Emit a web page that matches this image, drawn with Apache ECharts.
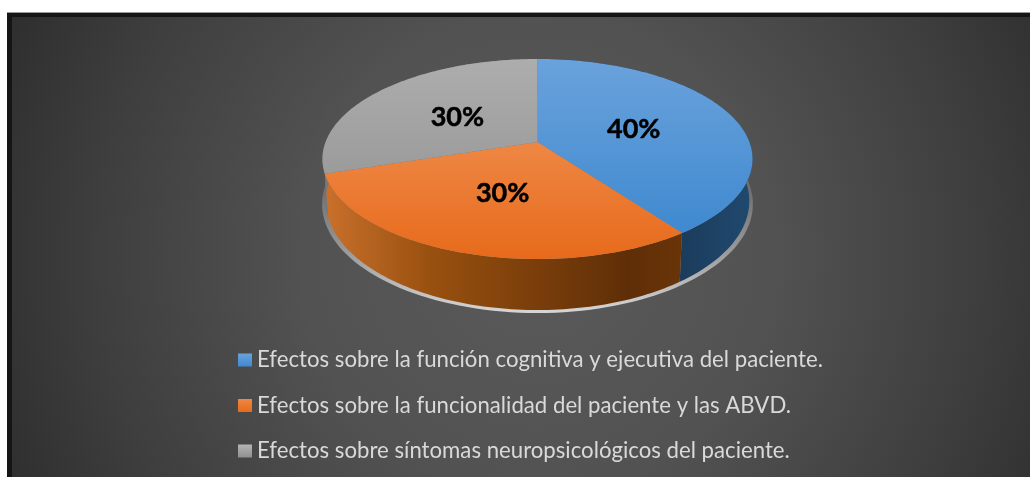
<!DOCTYPE html>
<html>
<head>
<meta charset="utf-8">
<style>
  html, body { margin: 0; padding: 0; background: #fff; }
  #main { width: 1030px; height: 477px; }
</style>
<script src="https://cdn.jsdelivr.net/npm/echarts@6/dist/echarts.min.js"></script>
</head>
<body>
<div id="main"></div>
<script>
var categories = [
  'Efectos sobre la función cognitiva y ejecutiva del paciente.',
  'Efectos sobre la funcionalidad del paciente y las ABVD.',
  'Efectos sobre síntomas neuropsicológicos del paciente.'
];
var values = [40, 30, 30];

var myChart = echarts.init(document.getElementById('main'));

// pie geometry: a flat disc seen in perspective (the far side is squeezed)
var cx = 537.5, cy = 142;
var persp = 0.17, radX = 211.9, radY = 97.1;
var bottomDrop = 40.5, bottomScaleX = 0.985, bottomScaleY = 1.09;
var total = values.reduce(function (a, b) { return a + b; }, 0);

function grad(x0, y0, x1, y1, stops) {
  return new echarts.graphic.LinearGradient(x0, y0, x1, y1, stops.map(function (c) {
    return { offset: c[0], color: c[1] };
  }), true);
}

var topFills = [
  grad(0, 59, 0, 235, [[0, '#6aa2dc'], [1, '#3f89cf']]),
  grad(0, 142, 0, 260, [[0, '#ee8744'], [1, '#e76a1b']]),
  grad(0, 59, 0, 175, [[0, '#adadad'], [1, '#9b9b9b']])
];
var sideFills = [
  grad(680, 0, 750, 0, [[0, '#1b3c5c'], [1, '#20496e']]),
  grad(325, 0, 682, 0, [[0, '#c9702c'], [0.3, '#98500f'], [0.85, '#5f2e07'], [1, '#6a3408']]),
  '#777'
];
var legendFills = [
  new echarts.graphic.LinearGradient(0, 0, 0, 1, [{ offset: 0, color: '#6aa2dc' }, { offset: 1, color: '#3f89cf' }]),
  new echarts.graphic.LinearGradient(0, 0, 0, 1, [{ offset: 0, color: '#ee8744' }, { offset: 1, color: '#e76a1b' }]),
  new echarts.graphic.LinearGradient(0, 0, 0, 1, [{ offset: 0, color: '#b4b4b4' }, { offset: 1, color: '#8f8f8f' }])
];

function rimPoint(angle, r, bottom) {
  var u = Math.sin(angle) * r, v = Math.cos(angle) * r;
  var d = 1 + persp * v;
  var x = radX * u / d, y = -radY * v / d;
  if (bottom) {
    return [cx + x * bottomScaleX, cy + bottomDrop + y * bottomScaleY];
  }
  return [cx + x, cy + y];
}

function arcPoints(a0, a1, bottom) {
  var pts = [];
  var steps = 90;
  for (var i = 0; i <= steps; i++) {
    pts.push(rimPoint(a0 + (a1 - a0) * i / steps, 1, bottom));
  }
  return pts;
}

function sliceRenderer(idx) {
  return function (params, api) {
    var before = values.slice(0, idx).reduce(function (a, b) { return a + b; }, 0);
    var val = api.value(0);
    var a0 = before / total * Math.PI * 2;
    var a1 = (before + val) / total * Math.PI * 2;
    var mid = (a0 + a1) / 2;
    var rim = arcPoints(a0, a1, false);
    var low = arcPoints(a0, a1, true).reverse();
    var labelPos = rimPoint(mid, 0.49, false);
    return {
      type: 'group',
      children: [{
        type: 'polygon',
        z2: 2,
        shape: { points: rim.concat(low) },
        style: { fill: sideFills[idx] }
      }, {
        type: 'polygon',
        z2: 3,
        shape: { points: [[cx, cy]].concat(rim) },
        style: { fill: topFills[idx] }
      }, {
        type: 'text',
        z2: 5,
        x: labelPos[0],
        y: labelPos[1] + 2,
        style: {
          text: Math.round(val / total * 100) + '%',
          fill: '#000',
          stroke: '#000',
          lineWidth: 0.5,
          font: 'bold 27px Lato, "Open Sans", sans-serif',
          align: 'center',
          verticalAlign: 'middle'
        }
      }]
    };
  };
}

function reflection() {
  // thin light sliver under the base of the pie
  var pts = [];
  for (var i = 0; i <= 180; i++) {
    var a = Math.PI * 2 * i / 180;
    var p = rimPoint(a, 1, true);
    pts.push([cx + (p[0] - cx) * 1.017, p[1] + 3]);
  }
  return pts;
}

var series = categories.map(function (name, idx) {
  return {
    name: name,
    type: 'custom',
    coordinateSystem: 'none',
    silent: true,
    itemStyle: { color: legendFills[idx] },
    data: [[values[idx]]],
    renderItem: sliceRenderer(idx)
  };
});

var options = {
  animation: false,
  graphic: {
    elements: [{
      type: 'rect',
      z: -11,
      shape: { x: 7, y: 12, width: 1023, height: 2 },
      style: { fill: '#9a9a9a' }
    }, {
      type: 'rect',
      z: -10,
      shape: { x: 7, y: 13, width: 1023, height: 464 },
      style: { fill: '#151515' }
    }, {
      type: 'rect',
      z: -9,
      shape: { x: 12, y: 17, width: 1018, height: 460 },
      style: {
        fill: new echarts.graphic.RadialGradient(537, 255, 590, [
          { offset: 0, color: '#5a5a5a' },
          { offset: 0.4, color: '#525252' },
          { offset: 0.75, color: '#3e3e3e' },
          { offset: 1, color: '#2d2d2d' }
        ], true)
      }
    }, {
      type: 'polygon',
      z: -5,
      shape: { points: reflection() },
      style: { fill: grad(0, 190, 0, 313, [[0, '#6f6f6f'], [0.5, '#9a9a9a'], [1, '#d6d6d6']]) }
    }]
  },
  legend: {
    orient: 'vertical',
    left: 233,
    top: 344,
    icon: 'rect',
    itemWidth: 14,
    itemHeight: 13,
    itemGap: 23.5,
    selectedMode: false,
    data: categories.map(function (name, idx) {
      return { name: name, itemStyle: { color: legendFills[idx] } };
    }),
    textStyle: {
      color: '#d9d9d9',
      fontSize: 22.2,
      fontFamily: 'Lato, "Open Sans", sans-serif'
    }
  },
  series: series
};

myChart.setOption(options);
</script>
</body>
</html>
